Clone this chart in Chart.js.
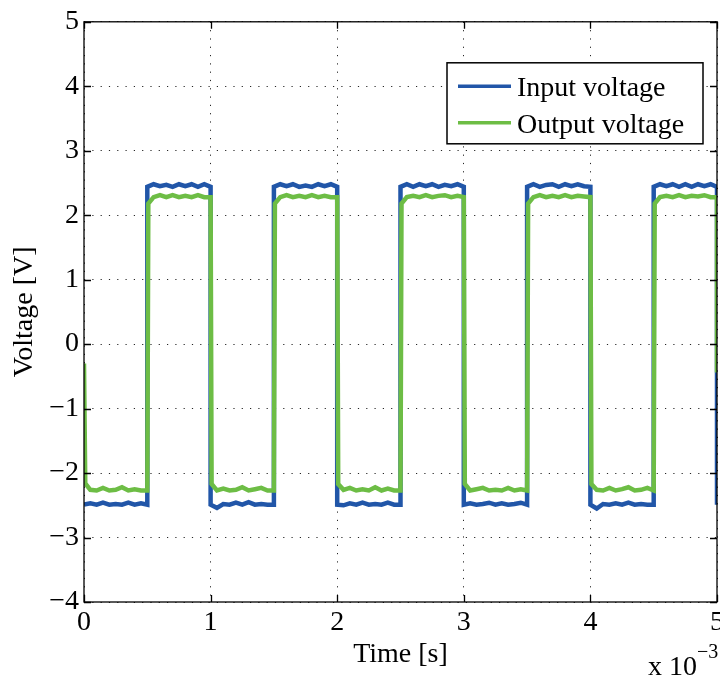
<!DOCTYPE html>
<html>
<head>
<meta charset="utf-8">
<script src="https://cdn.jsdelivr.net/npm/chart.js@4"></script>
<style>
  body { margin: 0; background: #fff; }
  #wrap { width: 720px; height: 677px; position: relative; }
</style>
</head>
<body>
<div id="wrap"><canvas id="scope"></canvas></div>
<script>
// time in units of 10^-3 s
const inputTime = [
  0, 0.05, 0.1, 0.15, 0.2, 0.25, 0.3, 0.35, 0.4, 0.45, 0.5,
  0.5, 0.55, 0.6, 0.65, 0.7, 0.75, 0.8, 0.85, 0.9, 0.95, 1.0,
  1.0, 1.05, 1.1, 1.15, 1.2, 1.25, 1.3, 1.35, 1.4, 1.45, 1.5,
  1.5, 1.55, 1.6, 1.65, 1.7, 1.75, 1.8, 1.85, 1.9, 1.95, 2.0,
  2.0, 2.05, 2.1, 2.15, 2.2, 2.25, 2.3, 2.35, 2.4, 2.45, 2.5,
  2.5, 2.55, 2.6, 2.65, 2.7, 2.75, 2.8, 2.85, 2.9, 2.95, 3.0,
  3.0, 3.05, 3.1, 3.15, 3.2, 3.25, 3.3, 3.35, 3.4, 3.45, 3.5,
  3.5, 3.55, 3.6, 3.65, 3.7, 3.75, 3.8, 3.85, 3.9, 3.95, 4.0,
  4.0, 4.05, 4.1, 4.15, 4.2, 4.25, 4.3, 4.35, 4.4, 4.45, 4.5,
  4.5, 4.55, 4.6, 4.65, 4.7, 4.75, 4.8, 4.85, 4.9, 4.95, 5.0,
  5.0
];
const inputVoltage = [
  -2.49, -2.47, -2.49, -2.46, -2.49, -2.48, -2.49, -2.46, -2.49, -2.47, -2.49,
  2.44, 2.48, 2.45, 2.47, 2.44, 2.48, 2.45, 2.48, 2.44, 2.48, 2.44,
  -2.49, -2.54, -2.48, -2.49, -2.46, -2.49, -2.45, -2.49, -2.48, -2.49, -2.49,
  2.44, 2.48, 2.45, 2.48, 2.44, 2.46, 2.44, 2.48, 2.45, 2.48, 2.44,
  -2.49, -2.50, -2.47, -2.49, -2.46, -2.49, -2.48, -2.49, -2.46, -2.49, -2.49,
  2.44, 2.48, 2.44, 2.48, 2.45, 2.48, 2.44, 2.47, 2.45, 2.48, 2.44,
  -2.49, -2.47, -2.49, -2.48, -2.46, -2.49, -2.47, -2.49, -2.48, -2.46, -2.49,
  2.44, 2.48, 2.44, 2.47, 2.48, 2.44, 2.48, 2.45, 2.48, 2.45, 2.44,
  -2.49, -2.55, -2.48, -2.49, -2.47, -2.49, -2.46, -2.49, -2.48, -2.49, -2.49,
  2.44, 2.48, 2.45, 2.48, 2.44, 2.48, 2.44, 2.48, 2.45, 2.48, 2.44,
  -2.49
];

const outputTime = [
  0, 0.01, 0.05, 0.1, 0.15, 0.2, 0.25, 0.3, 0.35, 0.4, 0.45, 0.5,
  0.508, 0.55, 0.6, 0.65, 0.7, 0.75, 0.8, 0.85, 0.9, 0.95, 1.0,
  1.008, 1.05, 1.1, 1.15, 1.2, 1.25, 1.3, 1.35, 1.4, 1.45, 1.5,
  1.508, 1.55, 1.6, 1.65, 1.7, 1.75, 1.8, 1.85, 1.9, 1.95, 2.0,
  2.008, 2.05, 2.1, 2.15, 2.2, 2.25, 2.3, 2.35, 2.4, 2.45, 2.5,
  2.508, 2.55, 2.6, 2.65, 2.7, 2.75, 2.8, 2.85, 2.9, 2.95, 3.0,
  3.008, 3.05, 3.1, 3.15, 3.2, 3.25, 3.3, 3.35, 3.4, 3.45, 3.5,
  3.508, 3.55, 3.6, 3.65, 3.7, 3.75, 3.8, 3.85, 3.9, 3.95, 4.0,
  4.008, 4.05, 4.1, 4.15, 4.2, 4.25, 4.3, 4.35, 4.4, 4.45, 4.5,
  4.508, 4.55, 4.6, 4.65, 4.7, 4.75, 4.8, 4.85, 4.9, 4.95, 5.0,
  5.0
];
const outputVoltage = [
  -0.30, -2.16, -2.26, -2.27, -2.23, -2.27, -2.26, -2.22, -2.27, -2.25, -2.27, -2.27,
  2.18, 2.28, 2.31, 2.28, 2.31, 2.28, 2.30, 2.28, 2.31, 2.28, 2.28,
  -2.17, -2.27, -2.24, -2.27, -2.26, -2.22, -2.27, -2.25, -2.23, -2.27, -2.27,
  2.18, 2.28, 2.31, 2.28, 2.30, 2.28, 2.31, 2.28, 2.30, 2.28, 2.28,
  -2.17, -2.26, -2.23, -2.27, -2.25, -2.27, -2.22, -2.27, -2.24, -2.27, -2.27,
  2.18, 2.28, 2.30, 2.28, 2.31, 2.28, 2.30, 2.31, 2.28, 2.30, 2.28,
  -2.17, -2.27, -2.25, -2.23, -2.27, -2.26, -2.27, -2.23, -2.27, -2.25, -2.27,
  2.18, 2.28, 2.31, 2.28, 2.30, 2.28, 2.31, 2.28, 2.30, 2.29, 2.28,
  -2.17, -2.26, -2.27, -2.23, -2.27, -2.25, -2.22, -2.27, -2.26, -2.23, -2.27,
  2.18, 2.28, 2.30, 2.28, 2.31, 2.28, 2.30, 2.29, 2.31, 2.28, 2.28,
  -0.44
];

const seriesNames = ["Input voltage", "Output voltage"];
const seriesColors = ["#2156a8", "#6dbd45"];
const xTicks = [0, 1, 2, 3, 4, 5];
const yTicks = [-4, -3, -2, -1, 0, 1, 2, 3, 4, 5];

const FONT = "Liberation Serif";

const toPoints = (t, v) => t.map((x, i) => ({ x: x, y: v[i] }));
const minus = (v) => (v < 0 ? "\u2212" + Math.abs(v) : String(v));

// box, inward ticks, legend and the x 10^-3 exponent (matlab look)
const matlabFrame = {
  id: "matlabFrame",
  afterDraw(chart) {
    const { ctx, chartArea: a, scales } = chart;
    ctx.save();
    ctx.strokeStyle = "#000";
    ctx.lineWidth = 1.3;
    ctx.beginPath();
    yTicks.forEach((v) => {
      const y = Math.round(scales.y.getPixelForValue(v)) + 0.5;
      ctx.moveTo(a.left, y); ctx.lineTo(a.left + 7, y);
      ctx.moveTo(a.right, y); ctx.lineTo(a.right - 7, y);
    });
    xTicks.forEach((v) => {
      const x = Math.round(scales.x.getPixelForValue(v)) + 0.5;
      ctx.moveTo(x, a.bottom); ctx.lineTo(x, a.bottom - 7);
      ctx.moveTo(x, a.top); ctx.lineTo(x, a.top + 7);
    });
    ctx.stroke();
    ctx.strokeRect(a.left, a.top, a.right - a.left, a.bottom - a.top);

    // legend
    const bx = a.right - 270, by = a.top + 41, bw = 256, bh = 81;
    ctx.fillStyle = "#fff";
    ctx.fillRect(bx, by, bw, bh);
    ctx.lineWidth = 1.5;
    ctx.strokeRect(bx, by, bw, bh);
    ctx.font = "28px '" + FONT + "'";
    ctx.textBaseline = "alphabetic";
    chart.data.datasets.forEach((ds, i) => {
      const ly = by + 23.5 + i * 36.5;
      ctx.strokeStyle = ds.borderColor;
      ctx.lineWidth = 3.5;
      ctx.beginPath();
      ctx.moveTo(bx + 11, ly); ctx.lineTo(bx + 64, ly);
      ctx.stroke();
      ctx.fillStyle = "#000";
      ctx.fillText(ds.label, bx + 70, ly + 10);
    });

    // exponent
    ctx.fillStyle = "#000";
    ctx.font = "28px '" + FONT + "'";
    ctx.fillText("x 10", a.right - 69, 675);
    ctx.font = "20px '" + FONT + "'";
    ctx.fillText("\u22123", a.right - 20, 658);
    ctx.restore();
  }
};

new Chart(document.getElementById("scope"), {
  type: "line",
  data: {
    datasets: [
      {
        label: seriesNames[0],
        data: toPoints(inputTime, inputVoltage),
        borderColor: seriesColors[0],
        borderWidth: 4.5,
        pointRadius: 0,
        tension: 0,
        order: 2,
      },
      {
        label: seriesNames[1],
        data: toPoints(outputTime, outputVoltage),
        borderColor: seriesColors[1],
        borderWidth: 4.5,
        pointRadius: 0,
        tension: 0,
        order: 1,
      },
    ],
  },
  options: {
    responsive: true,
    maintainAspectRatio: false,
    animation: false,
    devicePixelRatio: 1,
    layout: { padding: { top: 20, right: 3, left: 0, bottom: 0 } },
    plugins: {
      legend: { display: false },
      tooltip: { enabled: false },
    },
    scales: {
      x: {
        type: "linear",
        min: 0,
        max: 5,
        afterBuildTicks: (s) => { s.ticks = xTicks.map((v) => ({ value: v })); },
        afterFit: (s) => { s.height = 75; s.paddingLeft = 0; s.paddingRight = 0; },
        ticks: {
          color: "#000",
          font: { family: FONT, size: 28 },
          padding: 4,
          maxRotation: 0,
        },
        grid: { color: "rgba(0,0,0,0.85)", lineWidth: 1, drawTicks: false },
        border: { display: false, dash: [1.2, 7.1] },
        title: {
          display: true,
          text: "Time [s]",
          color: "#000",
          font: { family: FONT, size: 28 },
          padding: { top: 0, bottom: 6 },
        },
      },
      y: {
        type: "linear",
        min: -4,
        max: 5,
        afterBuildTicks: (s) => { s.ticks = yTicks.map((v) => ({ value: v })); },
        afterFit: (s) => { s.width = 84; },
        ticks: {
          color: "#000",
          font: { family: FONT, size: 28 },
          padding: 5,
          callback: (v) => minus(v),
        },
        grid: { color: "rgba(0,0,0,0.85)", lineWidth: 1, drawTicks: false },
        border: { display: false, dash: [1.2, 7.1] },
        title: {
          display: true,
          text: "Voltage [V]",
          color: "#000",
          font: { family: FONT, size: 28 },
          padding: { top: 8, bottom: 0 },
        },
      },
    },
  },
  plugins: [matlabFrame],
});
</script>
</body>
</html>
